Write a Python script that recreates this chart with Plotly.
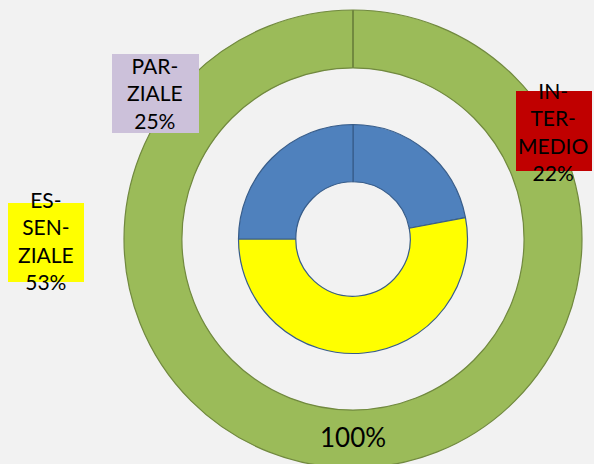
import plotly.graph_objects as go

W, H = 594, 468  # ring is cropped by the 464px window, as in the reference

# ---- data ----
inner_labels = ["INTERMEDIO", "ESSENZIALE", "PARZIALE"]
inner_display = ["IN-<br>TER-<br>MEDIO", "ES-<br>SEN-<br>ZIALE", "PAR-<br>ZIALE"]
inner_values = [22, 53, 25]
inner_colors = ["#4F81BD", "#FFFF00", "#4F81BD"]
label_box_colors = ["#C00000", "#FFFF00", "#CCC1DA"]

outer_labels = ["TOTALE"]
outer_values = [100]
outer_colors = ["#9BBB59"]


def px(x):
    return x / W


def py(y):
    return 1 - y / H


FONT = "Lato, 'Open Sans', sans-serif"

fig = go.Figure()

# outer ring
cx, cy, R = 353, 239, 229
HOLE_OUT = 0.747
fig.add_trace(go.Pie(
    labels=outer_labels, values=outer_values, sort=False, direction="clockwise",
    hole=HOLE_OUT, marker=dict(colors=outer_colors, line=dict(color="#71893F", width=1.2)),
    textinfo="none",
    domain=dict(x=[px(cx - R), px(cx + R)], y=[py(cy + R), py(cy - R)]),
    hoverinfo="skip", showlegend=False,
))

# inner donut
ix, iy, r = 353, 239, 114.5
fig.add_trace(go.Pie(
    labels=inner_labels, values=inner_values, sort=False, direction="clockwise",
    hole=0.5, marker=dict(colors=inner_colors, line=dict(color="#385D8A", width=1.2)),
    textinfo="none",
    domain=dict(x=[px(ix - r), px(ix + r)], y=[py(iy + r), py(iy - r)]),
    hoverinfo="skip", showlegend=False,
))

# start/end separator of the 100% ring
fig.add_shape(type="line", xref="paper", yref="paper",
              x0=px(cx), x1=px(cx), y0=py(cy - R), y1=py(cy - R * HOLE_OUT),
              line=dict(color="#71893F", width=2))

# total label in the ring
outer_pct = round(outer_values[0] / sum(outer_values) * 100)
fig.add_annotation(xref="paper", yref="paper", x=px(353), y=py(437),
                   text=f"{outer_pct}%", showarrow=False,
                   xanchor="center", yanchor="middle",
                   font=dict(family=FONT, size=26, color="black"))

# label boxes (position per inner slice)
boxes = [(516, 91, 592, 171), (8, 203, 84, 282), (112, 54, 199, 133)]
text_pos = [(553, 131), (46, 241), (155, 93)]
total = sum(inner_values)
for i in range(len(inner_labels)):
    x0, y0, x1, y1 = boxes[i]
    fig.add_shape(type="rect", xref="paper", yref="paper",
                  x0=px(x0), x1=px(x1), y0=py(y1), y1=py(y0),
                  fillcolor=label_box_colors[i], line=dict(width=0), layer="above")
    tx, ty = text_pos[i]
    pct = round(inner_values[i] / total * 100)
    fig.add_annotation(xref="paper", yref="paper", x=px(tx), y=py(ty),
                       text=f"{inner_display[i]}<br>{pct}%", showarrow=False,
                       xanchor="center", yanchor="middle",
                       font=dict(family=FONT, size=21, color="black"))

fig.update_layout(
    width=W, height=H, margin=dict(l=0, r=0, t=0, b=0),
    paper_bgcolor="#F2F2F2", plot_bgcolor="#F2F2F2",
)

fig.write_html(
    "out.html",
    config={"displayModeBar": False},
    post_script="document.body.style.margin='0px';document.body.style.overflow='hidden';"
                "document.body.style.background='#F2F2F2';",
)
